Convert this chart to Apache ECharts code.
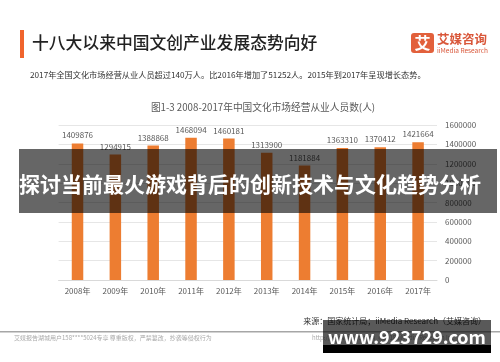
<!DOCTYPE html>
<html><head><meta charset="utf-8">
<script src="https://cdn.jsdelivr.net/npm/echarts@6/dist/echarts.min.js"></script>
<style>html,body{margin:0;padding:0;background:#fff}#c{width:500px;height:362px}</style>
</head><body><div id="c"></div>
<script>
const categories = ['2008年','2009年','2010年','2011年','2012年','2013年','2014年','2015年','2016年','2017年'];
const employees = [1409876,1294915,1388868,1468094,1460181,1313900,1181884,1363310,1370412,1421664];
const F = '"Noto Sans CJK SC", "Noto Sans", sans-serif';
const chart = echarts.init(document.getElementById('c'), null, {renderer:'canvas'});
chart.setOption({
  animation:false,
  textStyle:{fontFamily:F},
  grid:{left:58.6, right:63, top:125, bottom:82, containLabel:false},
  xAxis:{type:'category', data:categories,
    axisLine:{lineStyle:{color:'#d9d9d9'}}, axisTick:{show:false},
    axisLabel:{color:'#595959', fontSize:8, margin:7, fontFamily:F}},
  yAxis:{type:'value', position:'right', min:0, max:1600000, interval:200000,
    axisLine:{show:false}, axisTick:{show:false},
    splitLine:{lineStyle:{color:'#e6e6e6'}},
    axisLabel:{color:'#595959', fontSize:8, margin:8, fontFamily:F, formatter:function(v){return String(v);}}},
  series:[{type:'bar', data:employees, barWidth:11.5,
    itemStyle:{color:'#ED7D31'},
    label:{show:true, position:'top', distance:4, color:'#595959', fontSize:8, fontFamily:F}}],
  graphic:[
    {type:'rect', shape:{x:20,y:30,width:4,height:28}, style:{fill:'#F0642D'}, z:100},
    {type:'text', x:32, y:43, style:{text:'十八大以来中国文创产业发展态势向好', font:'500 16.8px '+F, fill:'#222', textVerticalAlign:'middle'}, z:100},
    {type:'rect', shape:{x:411,y:33,width:23,height:20,r:3}, style:{fill:'#E2603B'}, z:100},
    {type:'text', x:422.5, y:43, style:{text:'艾', font:'bold 16px '+F, fill:'#fff', textAlign:'center', textVerticalAlign:'middle'}, z:101},
    {type:'text', x:437, y:39.5, style:{text:'艾媒咨询', font:'bold 12.5px '+F, fill:'#D9573A', textVerticalAlign:'middle'}, z:100},
    {type:'text', x:437, y:50.5, style:{text:'iiMedia Research', font:'6.5px '+F, fill:'#D9573A', textVerticalAlign:'middle'}, z:100},
    {type:'text', x:30, y:75, style:{text:'2017年全国文化市场经营从业人员超过140万人。比2016年增加了51252人。2015年到2017年呈现增长态势。', font:'8.2px '+F, fill:'#333', textVerticalAlign:'middle'}, z:100},
    {type:'text', x:263, y:107, style:{text:'图1-3 2008-2017年中国文化市场经营从业人员数(人)', font:'9.7px '+F, fill:'#595959', textAlign:'center', textVerticalAlign:'middle'}, z:100},
    {type:'rect', shape:{x:19,y:149,width:478,height:64}, style:{fill:'rgba(0,0,0,0.6)'}, z:100},
    {type:'text', x:250, y:184, style:{text:'探讨当前最火游戏背后的创新技术与文化趋势分析', font:'bold 21px '+F, fill:'#fff', textAlign:'center', textVerticalAlign:'middle'}, z:101},
    {type:'text', x:486, y:321, style:{text:'来源：国家统计局；iiMedia Research（艾媒咨询）', font:'8px '+F, fill:'#333', textAlign:'right', textVerticalAlign:'middle'}, z:100},
    {type:'rect', shape:{x:0,y:331,width:500,height:1.5}, style:{fill:'#a6a6a6'}, z:100},
    {type:'text', x:14, y:337.5, style:{text:'艾媒报告湖城用户158****5024专享 尊重版权，严禁篡改，抄袭等侵权行为', font:'6px '+F, fill:'#aaa', textVerticalAlign:'middle'}, z:100},
    {type:'text', x:312, y:337.5, style:{text:'http://www.iimedia.cn  ©2018 iiMedia Research Inc', font:'6px '+F, fill:'#aaa', textVerticalAlign:'middle'}, z:100},
    {type:'rect', shape:{x:323,y:320,width:168,height:25}, style:{fill:'rgba(0,0,0,0.65)'}, z:102},
    {type:'rect', shape:{x:323,y:345,width:168,height:8}, style:{fill:'#000'}, z:102},
    {type:'text', x:407, y:337, style:{text:'www.923729.com', font:'bold 18px '+F, fill:'#fff', textAlign:'center', textVerticalAlign:'middle'}, z:103}
  ]
});
</script></body></html>
